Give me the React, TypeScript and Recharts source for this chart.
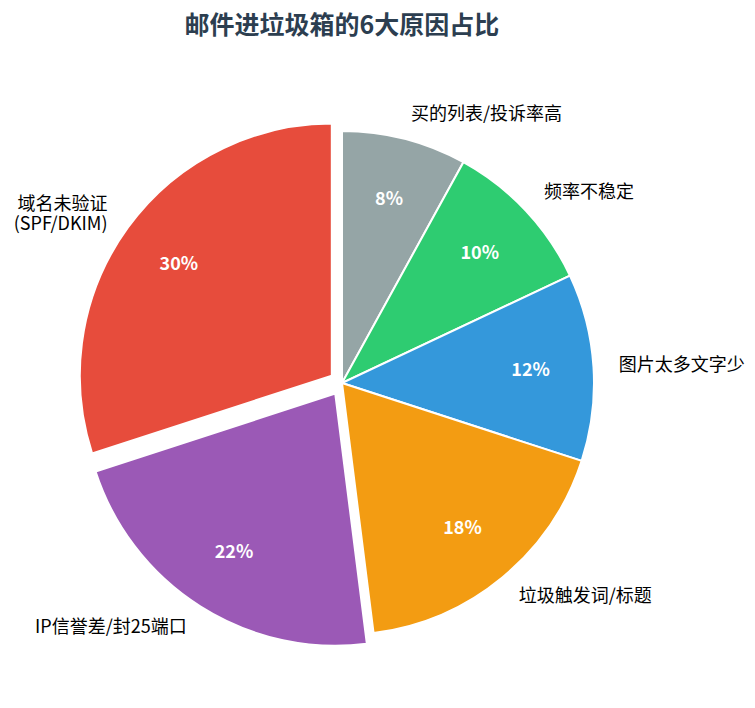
import { FC } from 'react';
import { PieChart, Pie, Cell, Sector } from 'recharts';

const reasons = [
	'买的列表/投诉率高',
	'频率不稳定',
	'图片太多文字少',
	'垃圾触发词/标题',
	'IP信誉差/封25端口',
	'域名未验证\n(SPF/DKIM)',
];
const shares = [8, 10, 12, 18, 22, 30];
const colors = ['#95a5a6', '#2ecc71', '#3498db', '#f39c12', '#9b59b6', '#e74c3c'];
const explodedReasons = ['IP信誉差/封25端口', '域名未验证\n(SPF/DKIM)'];

const data = reasons.map((name, i) => ({ name, value: shares[i] }));

const FONT = '"Noto Sans CJK SC", "Noto Sans", sans-serif';
const CX = 342;
const CY = 383;
const R = 252;
const EXPLODE = 0.05 * R;
const RADIAN = Math.PI / 180;
// CJK glyphs sit a bit low with dominant-baseline central
const TEXT_NUDGE = -3;

const offsetFor = (name: string) => (explodedReasons.includes(name) ? EXPLODE : 0);

const shiftedCenter = (cx: number, cy: number, midAngle: number, name: string) => {
	const d = offsetFor(name);
	return {
		x: cx + d * Math.cos(-midAngle * RADIAN),
		y: cy + d * Math.sin(-midAngle * RADIAN),
	};
};

const renderSlice = (props: any) => {
	const { cx, cy, midAngle, payload } = props;
	const c = shiftedCenter(cx, cy, midAngle, payload.name);
	return <Sector {...props} cx={c.x} cy={c.y} />;
};

const renderLabel = (props: any) => {
	const { cx, cy, midAngle, outerRadius, payload, value } = props;
	const c = shiftedCenter(cx, cy, midAngle, payload.name);
	const cos = Math.cos(-midAngle * RADIAN);
	const sin = Math.sin(-midAngle * RADIAN);
	const lx = c.x + outerRadius * 1.1 * cos;
	const ly = c.y + outerRadius * 1.1 * sin + TEXT_NUDGE;
	const px = c.x + outerRadius * 0.75 * cos;
	const py = c.y + outerRadius * 0.75 * sin + TEXT_NUDGE;
	const lines: string[] = String(payload.name).split('\n');
	const anchor = cos >= 0 ? 'start' : 'end';

	return (
		<g>
			<text
				x={lx}
				y={ly}
				fill='#000'
				fontSize={18}
				fontFamily={FONT}
				textAnchor={anchor}
				dominantBaseline='central'
			>
				{lines.map((line, i) => (
					<tspan key={i} x={lx} dy={i === 0 ? `${-(lines.length - 1) * 0.42}em` : '1.11em'}>
						{line}
					</tspan>
				))}
			</text>
			<text
				x={px}
				y={py}
				fill='#fff'
				fontSize={18}
				fontWeight='bold'
				fontFamily={FONT}
				textAnchor='middle'
				dominantBaseline='central'
			>
				{`${value}%`}
			</text>
		</g>
	);
};

const App: FC = () => {
	return (
		<div style={{ position: 'absolute', left: 0, top: 0, width: 755, height: 708, background: '#fff' }}>
			<div
				style={{
					position: 'absolute',
					left: 0,
					top: 9,
					width: 684,
					textAlign: 'center',
					fontFamily: FONT,
					fontWeight: 'bold',
					fontSize: 25,
					lineHeight: '28px',
					color: '#2c3e50',
				}}
			>
				邮件进垃圾箱的6大原因占比
			</div>
			<PieChart width={755} height={708} margin={{ top: 0, right: 0, bottom: 0, left: 0 }}>
				<Pie
					data={data}
					dataKey='value'
					nameKey='name'
					cx={CX}
					cy={CY}
					innerRadius={0}
					outerRadius={R}
					startAngle={90}
					endAngle={-270}
					stroke='#fff'
					strokeWidth={2}
					labelLine={false}
					label={renderLabel}
					shape={renderSlice}
					isAnimationActive={false}
				>
					{data.map((entry, index) => (
						<Cell key={`cell-${index}`} fill={colors[index]} />
					))}
				</Pie>
			</PieChart>
		</div>
	);
};

export default App;
